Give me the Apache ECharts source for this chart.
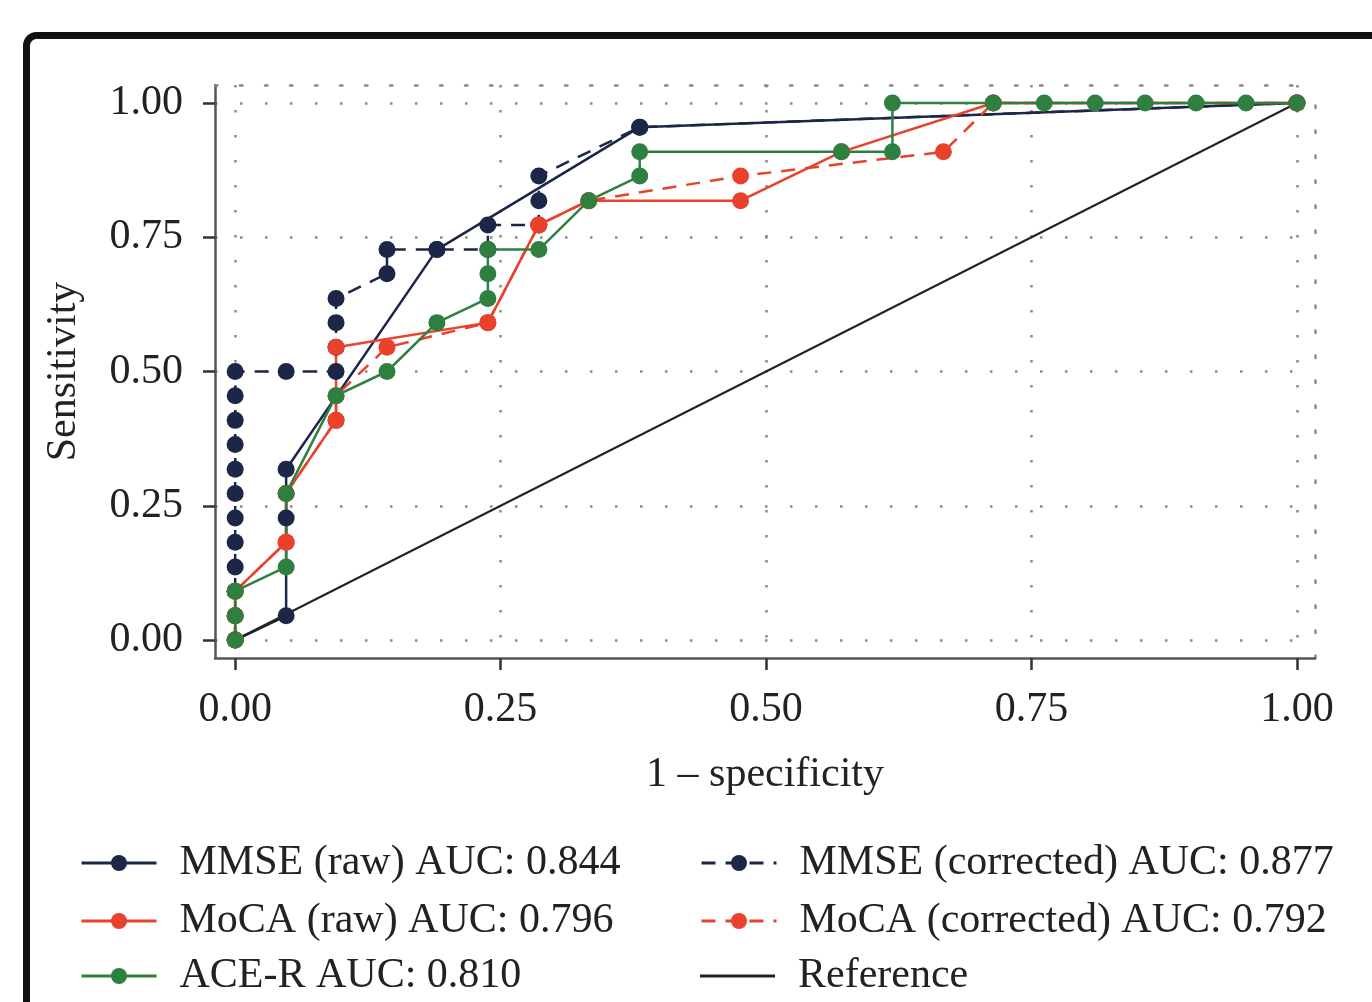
<!DOCTYPE html>
<html>
<head>
<meta charset="utf-8">
<script src="https://cdn.jsdelivr.net/npm/echarts@6/dist/echarts.min.js"></script>
<style>
html,body{margin:0;padding:0;background:#fff;}
#chart{width:1372px;height:1002px;}
</style>
</head>
<body>
<div id="chart"></div>
<script>
// ---- data ----
const seriesNames = [
  'MMSE (raw) AUC: 0.844',
  'MMSE (corrected) AUC: 0.877',
  'MoCA (raw) AUC: 0.796',
  'MoCA (corrected) AUC: 0.792',
  'ACE-R AUC: 0.810',
  'Reference'
];
const tickValues = [0, 0.25, 0.5, 0.75, 1];

const mmseRawFpr  = [0, 0.048, 0.048, 0.048, 0.190, 0.381, 1.0];
const mmseRawSens = [0, 0.045, 0.227, 0.318, 0.727, 0.955, 1.0];

const mmseCorFpr  = [0, 0, 0, 0, 0, 0, 0, 0, 0, 0, 0, 0, 0.048, 0.095, 0.095, 0.095, 0.095, 0.143, 0.143, 0.190, 0.238, 0.238, 0.286, 0.286, 0.286, 0.381, 1.0];
const mmseCorSens = [0, 0.045, 0.091, 0.136, 0.182, 0.227, 0.273, 0.318, 0.364, 0.409, 0.455, 0.5, 0.5, 0.5, 0.545, 0.591, 0.636, 0.682, 0.727, 0.727, 0.727, 0.773, 0.773, 0.818, 0.864, 0.955, 1.0];

const mocaRawFpr  = [0, 0, 0, 0.048, 0.048, 0.095, 0.095, 0.238, 0.286, 0.333, 0.476, 0.571, 0.714, 1.0];
const mocaRawSens = [0, 0.045, 0.091, 0.182, 0.273, 0.409, 0.545, 0.591, 0.773, 0.818, 0.818, 0.909, 1.0, 1.0];

const mocaCorFpr  = [0, 0, 0, 0.048, 0.048, 0.095, 0.095, 0.143, 0.238, 0.286, 0.333, 0.476, 0.667, 0.714, 1.0];
const mocaCorSens = [0, 0.045, 0.091, 0.182, 0.273, 0.409, 0.455, 0.545, 0.591, 0.773, 0.818, 0.864, 0.909, 1.0, 1.0];

const acerFpr  = [0, 0, 0, 0.048, 0.048, 0.095, 0.143, 0.190, 0.238, 0.238, 0.238, 0.286, 0.333, 0.381, 0.381, 0.571, 0.619, 0.619, 0.714, 0.762, 0.810, 0.857, 0.905, 0.952, 1.0];
const acerSens = [0, 0.045, 0.091, 0.136, 0.273, 0.455, 0.5, 0.591, 0.636, 0.682, 0.727, 0.727, 0.818, 0.864, 0.909, 0.909, 0.909, 1.0, 1.0, 1.0, 1.0, 1.0, 1.0, 1.0, 1.0];

const refFpr  = [0, 1];
const refSens = [0, 1];

// ---- styling ----
const NAVY = '#1c2747', RED = '#e8412c', GREEN = '#2f8040', BLACK = '#222';
const FONT = '"Liberation Serif", "DejaVu Serif", serif';
const DOT = [2.5, 22.5];

function pairs(xs, ys) { return xs.map((x, i) => [x, ys[i]]); }

function rocSeries(name, xs, ys, color, dashed) {
  return {
    name: name, type: 'line', data: pairs(xs, ys),
    symbol: 'circle', symbolSize: 17, showSymbol: true,
    itemStyle: { color: color },
    lineStyle: { color: color, width: 2.5, type: dashed ? [14, 10] : 'solid' },
    emphasis: { disabled: true },
    animation: false
  };
}

function legendAt(name, left, centerY, isRef) {
  return {
    orient: 'horizontal', left: left, top: centerY - 24,
    data: [isRef ? { name: name, icon: 'rect' } : name],
    itemWidth: 75, itemHeight: isRef ? 3 : 20, itemGap: 0,
    lineStyle: { width: 3 },
    textStyle: { fontFamily: FONT, fontSize: 42, color: BLACK, lineHeight: 48, padding: [0, 0, 0, 18] },
    selectedMode: false
  };
}

const chart = echarts.init(document.getElementById('chart'), null, { renderer: 'canvas' });

const xMin = -0.019, xMax = 1.017, yMin = -0.0335, yMax = 1.0335;
const rowY = [858, 916, 971];

const option = {
  backgroundColor: '#fff',
  animation: false,
  textStyle: { fontFamily: FONT },
  graphic: [{
    type: 'rect', left: 23, top: 32, z: 100,
    shape: { x: 0, y: 0, width: 1420, height: 1040, r: 10 },
    style: { fill: 'none', stroke: '#111', lineWidth: 7 }
  }],
  grid: { left: 215, top: 85, width: 1100, height: 573, containLabel: false },
  xAxis: [{
    type: 'value', min: xMin, max: xMax, position: 'bottom',
    name: '1 \u2013 specificity', nameLocation: 'middle', nameGap: 96,
    nameTextStyle: { fontFamily: FONT, fontSize: 42, color: BLACK },
    axisLine: { show: true, onZero: false, lineStyle: { color: '#555', width: 2.5 } },
    axisTick: { show: true, customValues: tickValues, length: 12, lineStyle: { color: '#333', width: 2.5 } },
    axisLabel: { customValues: tickValues, margin: 31, fontFamily: FONT, fontSize: 42, color: BLACK,
      formatter: v => v.toFixed(2) },
    splitLine: { show: true, lineStyle: { color: '#8a8a8a', width: 2.5, type: DOT } }
  }, {
    type: 'value', min: xMin, max: xMax, position: 'top',
    axisLine: { show: true, onZero: false, lineStyle: { color: '#8a8a8a', width: 2.5, type: DOT } },
    axisTick: { show: false }, axisLabel: { show: false }, splitLine: { show: false }
  }],
  yAxis: [{
    type: 'value', min: yMin, max: yMax, position: 'left',
    name: 'Sensitivity', nameLocation: 'middle', nameGap: 130,
    nameTextStyle: { fontFamily: FONT, fontSize: 42, color: BLACK },
    axisLine: { show: true, onZero: false, lineStyle: { color: '#555', width: 2.5 } },
    axisTick: { show: true, customValues: tickValues, length: 12, lineStyle: { color: '#333', width: 2.5 } },
    axisLabel: { customValues: tickValues, margin: 32, fontFamily: FONT, fontSize: 42, color: BLACK,
      formatter: v => v.toFixed(2) },
    splitLine: { show: true, lineStyle: { color: '#8a8a8a', width: 2.5, type: DOT } }
  }, {
    type: 'value', min: yMin, max: yMax, position: 'right',
    axisLine: { show: true, onZero: false, lineStyle: { color: '#8a8a8a', width: 2.5, type: DOT } },
    axisTick: { show: false }, axisLabel: { show: false }, splitLine: { show: false }
  }],
  legend: [
    legendAt(seriesNames[0], 75, rowY[0], false),
    legendAt(seriesNames[2], 75, rowY[1], false),
    legendAt(seriesNames[4], 75, rowY[2], false),
    legendAt(seriesNames[1], 695, rowY[0], false),
    legendAt(seriesNames[3], 695, rowY[1], false),
    legendAt(seriesNames[5], 695, rowY[2], true)
  ],
  series: [
    rocSeries(seriesNames[0], mmseRawFpr, mmseRawSens, NAVY, false),
    rocSeries(seriesNames[1], mmseCorFpr, mmseCorSens, NAVY, true),
    rocSeries(seriesNames[2], mocaRawFpr, mocaRawSens, RED, false),
    rocSeries(seriesNames[3], mocaCorFpr, mocaCorSens, RED, true),
    rocSeries(seriesNames[4], acerFpr, acerSens, GREEN, false),
    {
      name: seriesNames[5], type: 'line', data: pairs(refFpr, refSens),
      symbol: 'none', showSymbol: false,
      itemStyle: { color: BLACK },
      lineStyle: { color: BLACK, width: 2 },
      emphasis: { disabled: true }, animation: false
    }
  ]
};
chart.setOption(option);
</script>
</body>
</html>
